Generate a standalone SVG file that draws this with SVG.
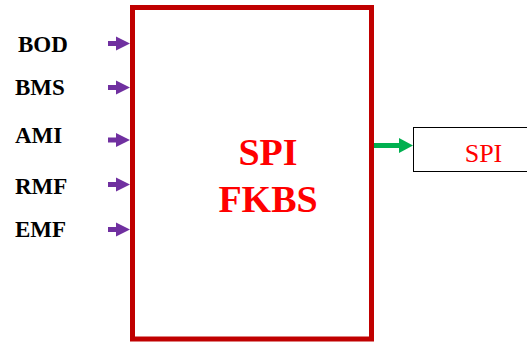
<svg xmlns="http://www.w3.org/2000/svg" width="527" height="342" viewBox="0 0 527 342">
<style>
.in{font-weight:bold;font-size:23px;fill:#000}
.main{font-weight:bold;font-size:38px;fill:#ff0000;text-anchor:middle}
.out{font-size:26px;fill:#ff0000;text-anchor:middle}
.pa{fill:#7030a0}
</style>
<defs>
<path id="parrow" d="M0,-2.5 L8,-2.5 L8,-7 L22,0 L8,7 L8,2.5 L0,2.5 Z"/>
</defs>
<g id="connectors">
<use href="#parrow" class="pa" x="108" y="43.5"/>
<use href="#parrow" class="pa" x="108" y="87.5"/>
<use href="#parrow" class="pa" x="108" y="140"/>
<use href="#parrow" class="pa" x="108" y="184.5"/>
<use href="#parrow" class="pa" x="108" y="229.5"/>
<path d="M372,143 L399,143 L399,138 L413,145.5 L399,153 L399,148 L372,148 Z" fill="#00b050"/>
</g>
<g font-family="Liberation Serif, Times New Roman, serif">
<g id="BOD"><text class="in" x="18" y="52">BOD</text></g>
<g id="BMS"><text class="in" x="15" y="95">BMS</text></g>
<g id="AMI"><text class="in" x="15" y="143">AMI</text></g>
<g id="RMF"><text class="in" x="15" y="194">RMF</text></g>
<g id="EMF"><text class="in" x="15" y="237">EMF</text></g>
<g id="spi-fkbs">
<rect x="132.5" y="7.5" width="239" height="331.5" fill="#fff" stroke="#c00000" stroke-width="5"/>
<text class="main" x="268" y="165">SPI</text>
<text class="main" x="268" y="212">FKBS</text>
</g>
<g id="spi-out">
<rect x="413.5" y="127.5" width="120" height="44" fill="#fff" stroke="#000" stroke-width="1"/>
<text class="out" x="483.5" y="162">SPI</text>
</g>
</g>
</svg>
